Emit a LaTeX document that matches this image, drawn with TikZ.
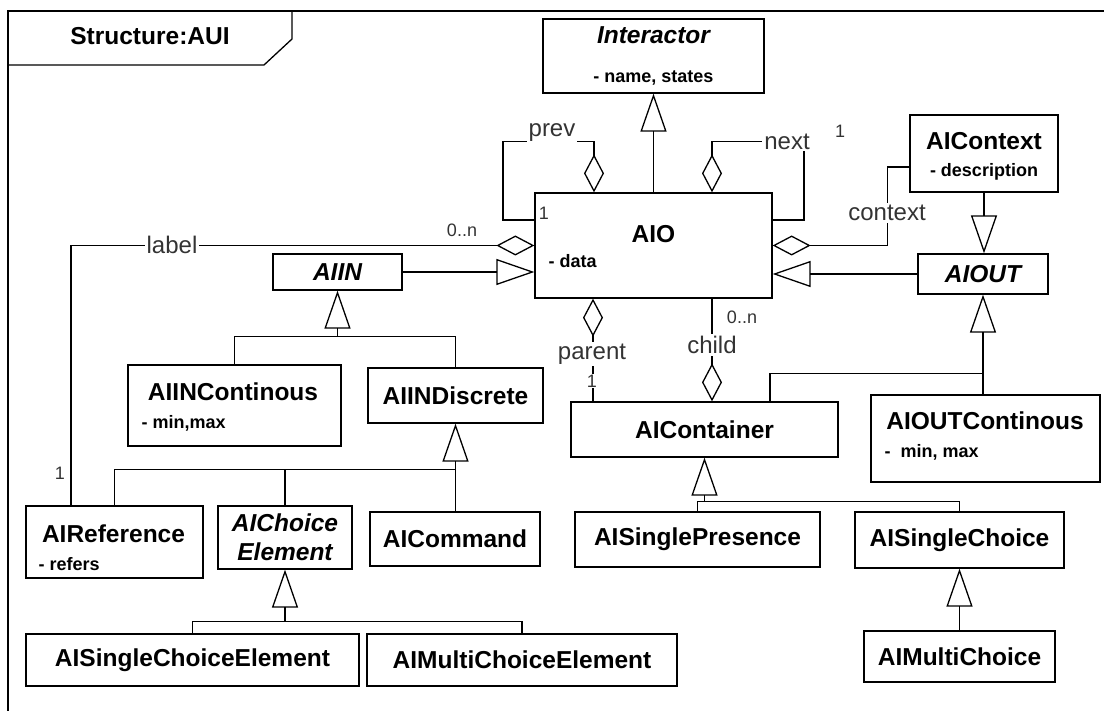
\documentclass[tikz,border=0pt]{standalone}
\usepackage{fontspec}
\setmainfont{Liberation Sans}
\usetikzlibrary{arrows.meta}

\begin{document}
\begin{tikzpicture}[x=1pt, y=-1pt, line width=1.3pt,
  umlbox/.style={draw, rectangle, inner sep=0pt, font=\fontsize{24.5}{29}\selectfont\bfseries},
  umlabsbox/.style={umlbox, font=\fontsize{24.5}{29}\selectfont\bfseries\itshape},
  umlname/.style={inner sep=0pt, font=\fontsize{24.5}{29}\selectfont\bfseries},
  umlabs/.style={umlname, font=\fontsize{24.5}{29}\selectfont\bfseries\itshape},
  umlattr/.style={inner sep=0pt, anchor=west, font=\fontsize{18}{21}\selectfont\bfseries},
  rolelbl/.style={fill=white, inner sep=2pt, text=black!80, font=\fontsize{24}{28}\selectfont},
  multlbl/.style={inner sep=0pt, text=black!80, font=\fontsize{18}{21}\selectfont},
  inherit/.style={-{Triangle[open, length=38pt, width=26pt]}},
  aggr/.style={{Diamond[open, length=38pt, width=20pt]}-}]
\useasboundingbox (0,0) rectangle (1104,711);

% frame
\draw (8,711) -- (8,11) -- (1104,11);
\draw (8,65) -- (264,65) -- (292,39) -- (292,11);
\node[umlname] (title) at (150,36) {Structure:AUI};

% classes
\node[umlbox, minimum width=221pt, minimum height=74pt] (interactor) at (653.5,56) {};
\node[umlabs] (interactor-n) at (653.5,35) {Interactor};
\node[umlattr, anchor=center] (interactor-a) at (653.5,78) {- name, states};

\node[umlbox, minimum width=237pt, minimum height=105pt] (aio) at (653.5,245.5) {};
\node[umlname] (aio-n) at (653.5,234.5) {AIO};
\node[umlattr] (aio-a) at (548,261) {- data};

\node[umlbox, minimum width=148pt, minimum height=77pt] (aicontext) at (984,153.5) {};
\node[umlname] (aicontext-n) at (984,141) {AIContext};
\node[umlattr, anchor=center] (aicontext-a) at (984,172) {- description};

\node[umlabsbox, minimum width=129pt, minimum height=36pt] (aiin) at (337.5,272) {AIIN};
\node[umlabsbox, minimum width=130pt, minimum height=40pt] (aiout) at (983,274) {AIOUT};

\node[umlbox, minimum width=213pt, minimum height=81pt] (aiincont) at (234.5,405.5) {};
\node[umlname] (aiincont-n) at (233,392) {AIINContinous};
\node[umlattr] (aiincont-a) at (141,423) {- min,max};

\node[umlbox, minimum width=175pt, minimum height=55pt] (aiindisc) at (455.5,395.5) {AIINDiscrete};
\node[umlbox, minimum width=267pt, minimum height=55pt] (aicontainer) at (704.5,429.5) {AIContainer};

\node[umlbox, minimum width=229pt, minimum height=87pt] (aioutcont) at (985.5,438.5) {};
\node[umlname] (aioutcont-n) at (985,420.5) {AIOUTContinous};
\node[umlattr] (aioutcont-a) at (884,452) {-\ \ min, max};

\node[umlbox, minimum width=177pt, minimum height=72pt] (aireference) at (114.5,542) {};
\node[umlname] (aireference-n) at (113.5,533.5) {AIReference};
\node[umlattr] (aireference-a) at (38,564) {- refers};

\node[umlabsbox, align=center, minimum width=134pt, minimum height=63pt] (aichoiceel) at (285,537.5) {AIChoice\\Element};
\node[umlbox, minimum width=170pt, minimum height=54pt] (aicommand) at (455,539) {AICommand};
\node[umlbox, minimum width=245pt, minimum height=55pt] (aisinglepres) at (697.5,539.5) {AISinglePresence};
\node[umlbox, minimum width=209pt, minimum height=56pt] (aisinglechoice) at (959.5,540) {AISingleChoice};
\node[umlbox, minimum width=191pt, minimum height=51pt] (aimultichoice) at (959.5,656.5) {AIMultiChoice};
\node[umlbox, minimum width=333pt, minimum height=52pt] (aisinglechel) at (192.5,660) {AISingleChoiceElement};
\node[umlbox, minimum width=310pt, minimum height=52pt] (aimultichel) at (522,660) {AIMultiChoiceElement};

% generalisations
\draw[inherit] (aio.north) -- (interactor.south);
\draw[inherit] (aiin.east) -- (aiin.east -| aio.west);
\draw[inherit] (aiout.west) -- (aiout.west -| aio.east);
\draw[inherit] (aicontext.south) -- (aicontext.south |- aiout.north);
\draw[inherit] ([xshift=65.5pt]aicontainer.north) |- ([yshift=-79pt]aiout.south) -- (aiout.south);
\draw (aiout.south |- aioutcont.north) -- ([yshift=-79pt]aiout.south);
\draw[inherit] (aiincont.north) |- ([yshift=-46pt]aiin.south) -- (aiin.south);
\draw (aiindisc.north) |- ([yshift=-46pt]aiin.south);
\draw[inherit] (aiindisc.south |- aicommand.north) -- (aiindisc.south);
\draw (aireference.north) |- ([yshift=-46pt]aiindisc.south);
\draw (aichoiceel.north) |- ([yshift=-46pt]aiindisc.south);
\draw[inherit] (aisinglechel.north) |- ([yshift=-52pt]aichoiceel.south) -- (aichoiceel.south);
\draw (aimultichel.north) |- ([yshift=-52pt]aichoiceel.south);
\draw[inherit] (aisinglepres.north) |- ([yshift=-44pt]aicontainer.south) -- (aicontainer.south);
\draw (aisinglechoice.north) |- ([yshift=-44pt]aicontainer.south);
\draw[inherit] (aimultichoice.north) -- (aisinglechoice.south);

% aggregations
\draw[aggr] ([xshift=-59.5pt]aio.north) -- ++(0,-51) -- ++(-91,0) |- ([yshift=25.5pt]aio.west);
\draw[aggr] ([xshift=58.5pt]aio.north) -- ++(0,-51) -- ++(92,0) |- ([yshift=25.5pt]aio.east);
\draw[aggr] (aio.west) -| ([xshift=-43.5pt]aireference.north);
\draw[aggr] (aio.east) -| ([shift={(-22,13.5)}]aicontext.west) -- ([yshift=-13.5pt]aicontext.west);
\draw[aggr] ([xshift=-60.5pt]aio.south) -- ([xshift=-60.5pt]aio.south |- aicontainer.north);
\draw[aggr] ([xshift=7.5pt]aicontainer.north) -- ([xshift=7.5pt]aicontainer.north |- aio.south);

% roles and multiplicities
\node[multlbl] (aio-m) at (544,213) {1};
\node[rolelbl] (r-prev) at (552,133) {prev};
\node[rolelbl] (r-next) at (787,141.5) {next};
\node[multlbl] (m-next) at (840,131) {1};
\node[rolelbl] (r-label) at (172,244.5) {label};
\node[multlbl] (m-label1) at (462,230) {0..n};
\node[multlbl] (m-label2) at (60,473) {1};
\node[rolelbl] (r-context) at (887,213) {context};
\node[rolelbl] (r-parent) at (592,354) {parent};
\node[multlbl, fill=white, inner sep=1pt] (m-parent) at (592,381) {1};
\node[rolelbl] (r-child) at (712,345) {child};
\node[multlbl] (m-child) at (742,317) {0..n};
\end{tikzpicture}
\end{document}
